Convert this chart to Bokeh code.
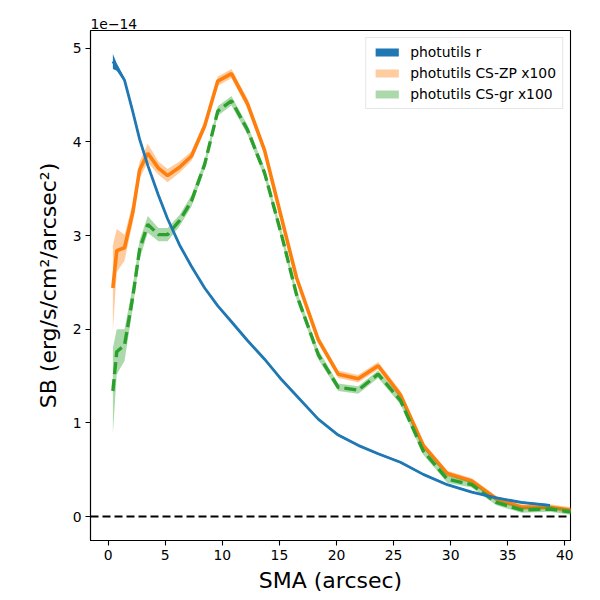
from bokeh.plotting import figure
from bokeh.models import Range1d, Span, Legend, LegendItem, FixedTicker
from bokeh.embed import file_html
from bokeh.resources import INLINE
import numpy as np

# ---------------- data (SB in units of 1e-14 erg/s/cm^2/arcsec^2) ----------------
sma_r = [0.41, 0.75, 1.43, 2.16, 2.75, 3.47, 4.4, 5.2, 6.25, 7.3, 8.45, 9.6, 10.8,
         12.2, 13.7, 15.2, 16.5, 18.4, 20.15, 21.9, 23.65, 25.6, 27.6, 29.7, 31.85,
         34.0, 36.2, 38.7]
sb_r = [4.86, 4.80, 4.66, 4.32, 4.03, 3.75, 3.43, 3.18, 2.90, 2.67, 2.44, 2.25, 2.08,
        1.88, 1.68, 1.46, 1.29, 1.04, 0.87, 0.76, 0.67, 0.58, 0.45, 0.34, 0.26,
        0.20, 0.15, 0.12]
err_r = [0.08, 0.04, 0.02, 0.01, 0.01, 0.01, 0.01, 0.01, 0.01, 0.01, 0.01, 0.01, 0.01,
         0.01, 0.01, 0.01, 0.01, 0.01, 0.01, 0.01, 0.01, 0.01, 0.01, 0.01, 0.01,
         0.01, 0.01, 0.01]

sma_cs = [0.41, 0.75, 1.43, 2.16, 2.75, 3.47, 4.4, 5.2, 6.25, 7.3, 8.45, 9.6, 10.8,
          12.2, 13.7, 15.2, 16.5, 18.4, 20.15, 21.9, 23.65, 25.6, 27.6, 29.7, 31.85,
          34.0, 36.2, 38.7, 41.0]
sb_zp = [2.44, 2.84, 2.87, 3.25, 3.70, 3.88, 3.72, 3.64, 3.73, 3.85, 4.17, 4.65, 4.73,
         4.41, 3.91, 3.18, 2.55, 1.89, 1.52, 1.47, 1.61, 1.30, 0.76, 0.46, 0.38,
         0.19, 0.10, 0.10, 0.06]
err_zp = [0.46, 0.23, 0.14, 0.10, 0.09, 0.10, 0.07, 0.07, 0.06, 0.05, 0.05, 0.05, 0.05,
          0.05, 0.04, 0.04, 0.04, 0.04, 0.04, 0.04, 0.04, 0.04, 0.03, 0.03, 0.03,
          0.03, 0.03, 0.03, 0.03]
sb_gr = [1.34, 1.76, 1.83, 2.35, 2.85, 3.12, 3.01, 3.01, 3.16, 3.37, 3.76, 4.33, 4.44,
         4.13, 3.67, 3.00, 2.37, 1.73, 1.38, 1.35, 1.52, 1.24, 0.70, 0.40, 0.34,
         0.15, 0.07, 0.08, 0.04]
err_gr = [0.46, 0.24, 0.17, 0.12, 0.10, 0.09, 0.07, 0.07, 0.06, 0.06, 0.05, 0.05, 0.05,
          0.05, 0.05, 0.05, 0.05, 0.05, 0.04, 0.04, 0.04, 0.04, 0.04, 0.04, 0.03,
          0.03, 0.03, 0.03, 0.03]

labels = ["photutils r", "photutils CS-ZP x100", "photutils CS-gr x100"]
zero_level = 0.0
x_ticks = [0, 5, 10, 15, 20, 25, 30, 35, 40]
y_ticks = [0, 1, 2, 3, 4, 5]

BLUE, ORANGE, GREEN = "#1f77b4", "#ff7f0e", "#2ca02c"
FONT = "DejaVu Sans"

p = figure(frame_width=480, frame_height=510,
           x_range=Range1d(-1.55, 40.5), y_range=Range1d(-0.256, 5.19),
           output_backend="svg", toolbar_location=None,
           min_border_left=90, min_border_right=18, min_border_top=30,
           min_border_bottom=10)

def band(x, y, e, color, alpha):
    y = np.array(y); e = np.array(e)
    return p.varea(x=x, y1=y - e, y2=y + e, fill_color=color, fill_alpha=alpha)

zp_band = band(sma_cs, sb_zp, err_zp, ORANGE, 0.4)
p.line(sma_cs, sb_zp, line_color=ORANGE, line_width=3.6)
gr_band = band(sma_cs, sb_gr, err_gr, GREEN, 0.4)
p.line(sma_cs, sb_gr, line_color=GREEN, line_width=3.4, line_dash="12 5")
r_band = band(sma_r, sb_r, err_r, BLUE, 1.0)
p.line(sma_r, sb_r, line_color=BLUE, line_width=2.8)

p.add_layout(Span(location=zero_level, dimension="width", line_color="black",
                  line_width=2.0, line_dash="8 4"))

legend = Legend(items=[LegendItem(label=labels[0], renderers=[r_band]),
                       LegendItem(label=labels[1], renderers=[zp_band]),
                       LegendItem(label=labels[2], renderers=[gr_band])],
                location="top_right", margin=7, padding=6, spacing=5,
                glyph_width=29, glyph_height=10, label_standoff=9,
                label_text_font=FONT, label_text_font_size="13.9px",
                label_text_color="black",
                border_line_color="#cccccc", border_line_width=1,
                background_fill_alpha=0.8)
p.add_layout(legend)

p.title.text = "1e\u221214"
p.title.align = "left"
p.title.text_font = FONT
p.title.text_font_size = "13.9px"
p.title.text_font_style = "normal"
p.title.text_color = "black"
p.title.standoff = 4
p.title.offset = 0

p.grid.visible = False
p.outline_line_color = "black"
p.outline_line_width = 1.1
p.outline_line_alpha = 1

p.xaxis.ticker = FixedTicker(ticks=x_ticks)
p.yaxis.ticker = FixedTicker(ticks=y_ticks)
p.xaxis.axis_label = "SMA (arcsec)"
p.yaxis.axis_label = "SB (erg/s/cm\u00b2/arcsec\u00b2)"
for ax in (p.xaxis, p.yaxis):
    ax.axis_label_text_font = FONT
    ax.axis_label_text_font_size = "22px"
    ax.axis_label_text_font_style = "normal"
    ax.axis_label_text_color = "black"
    ax.major_label_text_font = FONT
    ax.major_label_text_font_size = "13.9px"
    ax.major_label_text_color = "black"
    ax.axis_line_color = "black"
    ax.axis_line_width = 1.1
    ax.major_tick_line_color = "black"
    ax.major_tick_line_width = 1.1
    ax.major_tick_out = 5
    ax.major_tick_in = 0
    ax.minor_tick_line_color = None
    ax.major_label_standoff = 4
p.xaxis.axis_label_standoff = 5
p.yaxis.axis_label_standoff = 9

open("out.html", "w").write(file_html(p, INLINE))
